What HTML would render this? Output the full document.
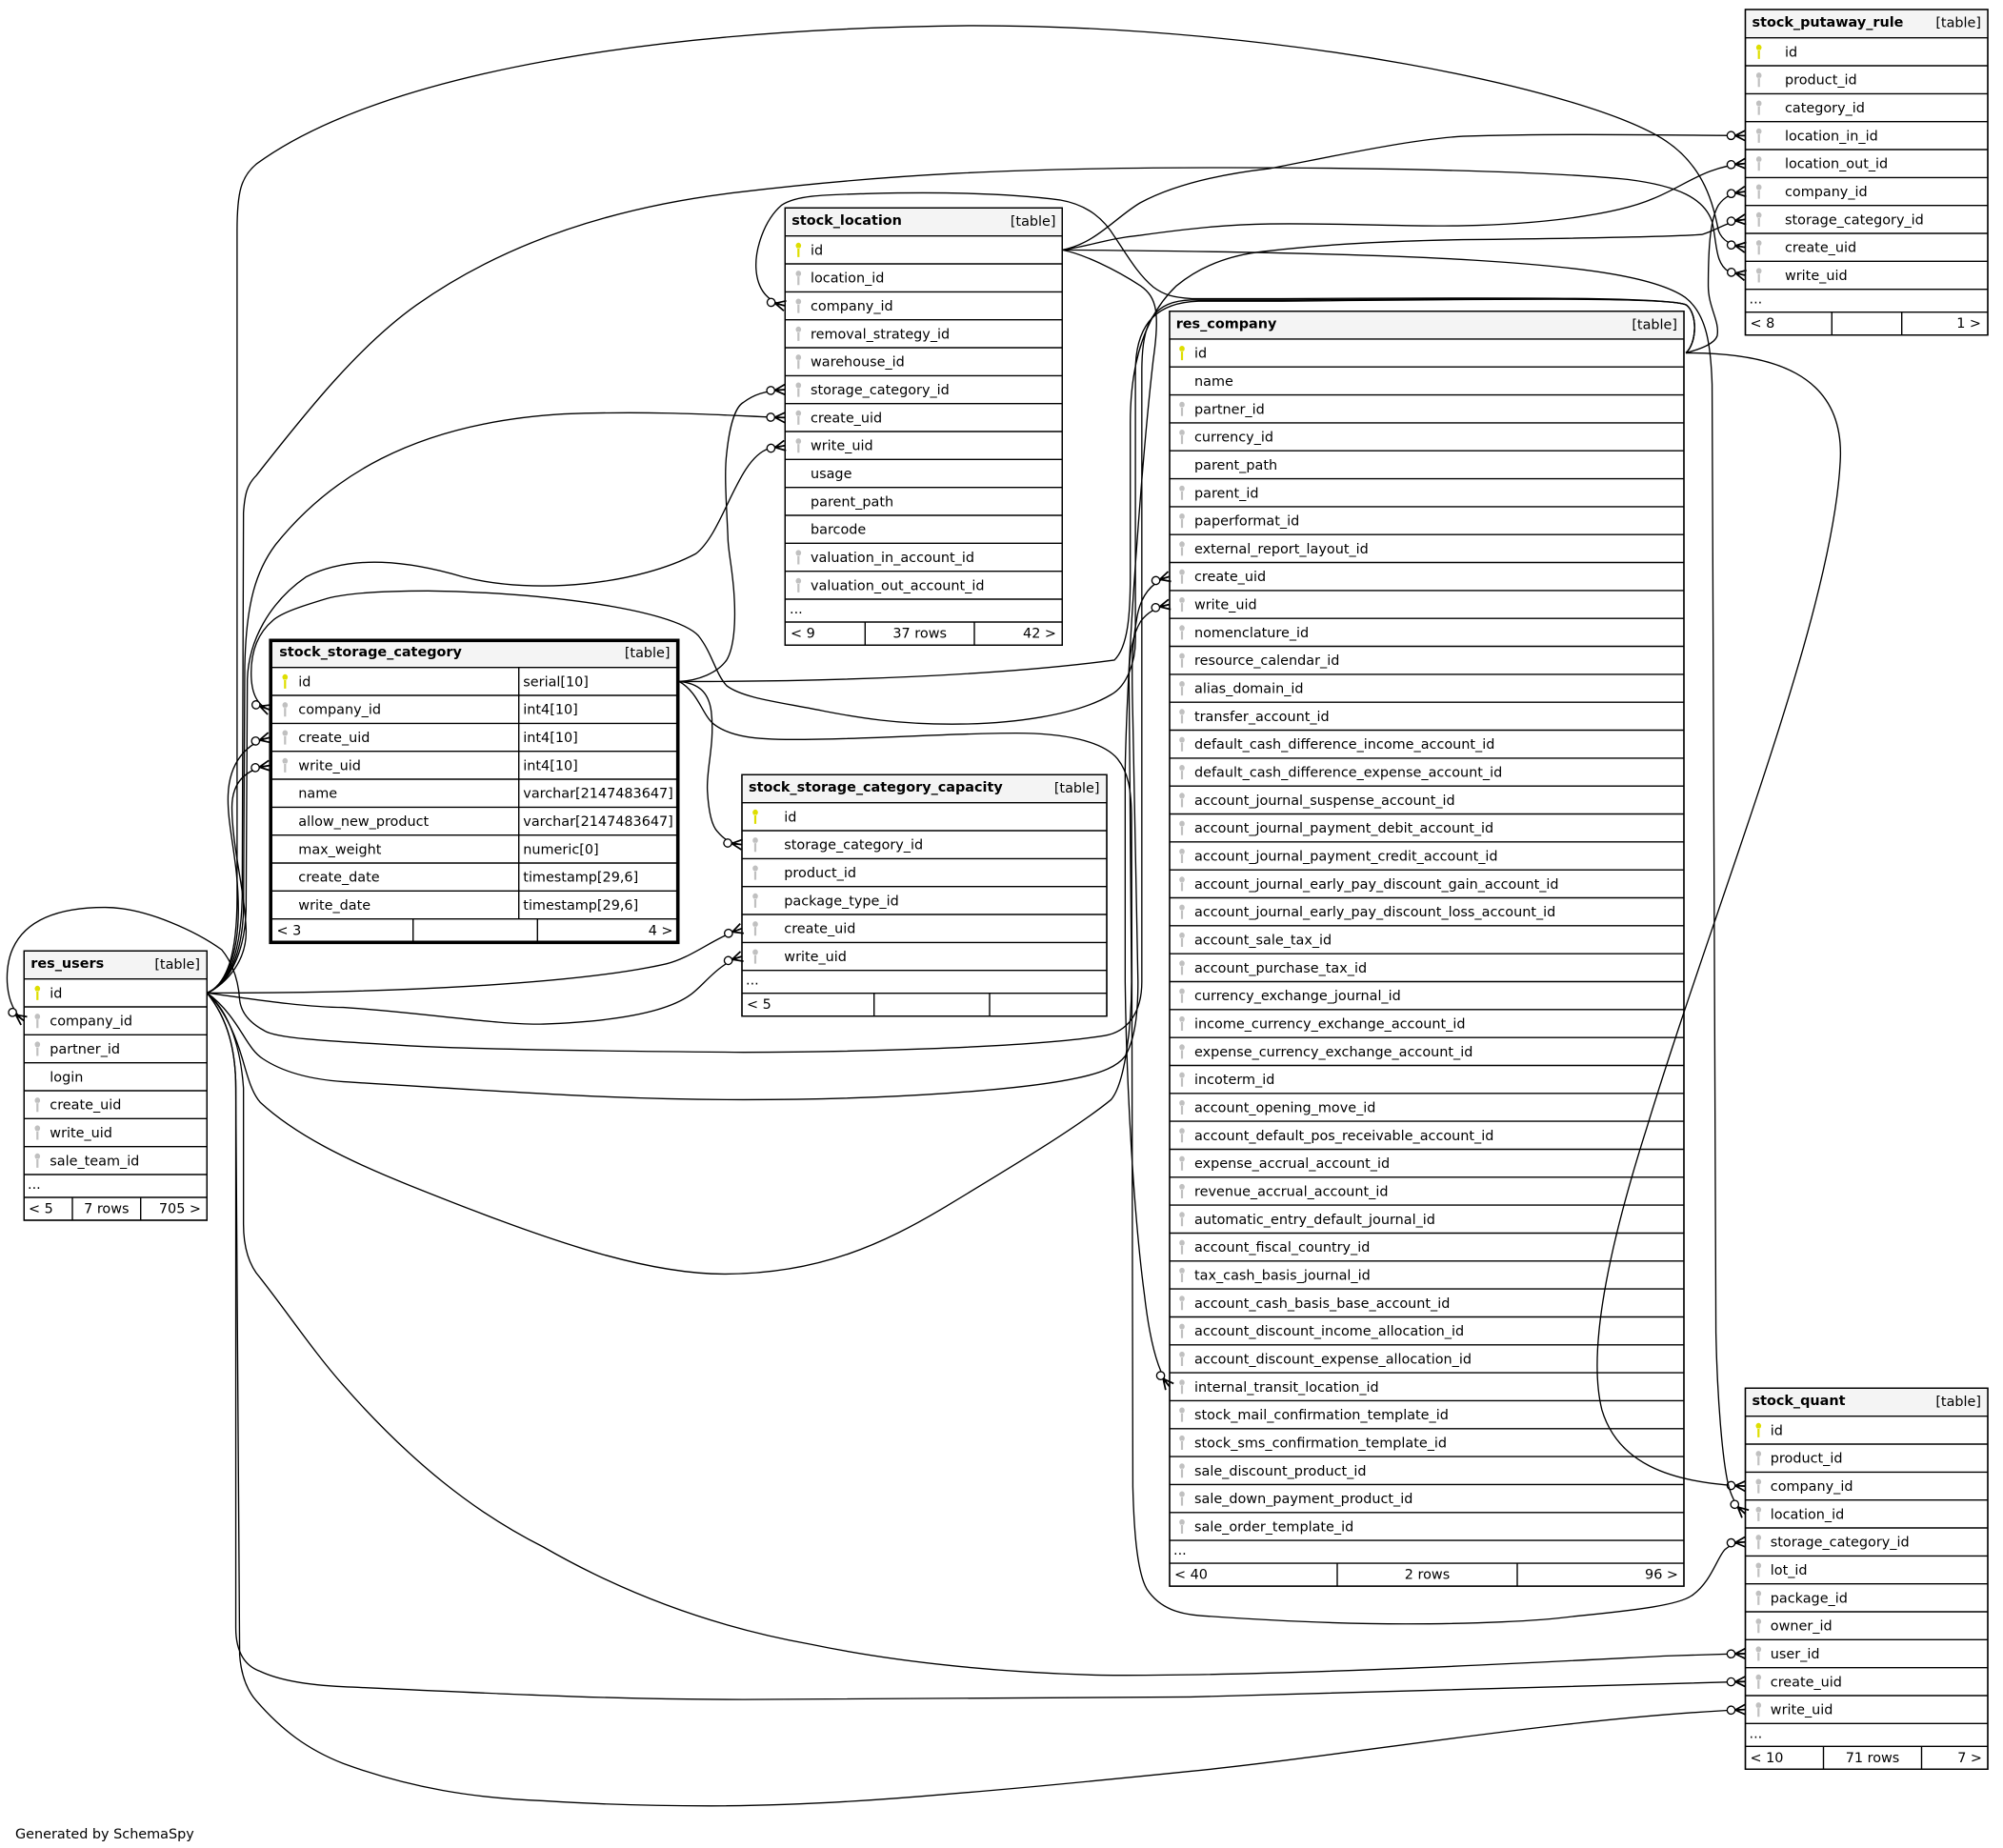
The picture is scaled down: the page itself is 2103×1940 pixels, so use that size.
<!DOCTYPE html>
<html><head><meta charset="utf-8"><style>
html,body{margin:0;padding:0;background:#fff}
svg{display:block}
text{font-family:"DejaVu Sans","Liberation Sans",sans-serif;font-size:14.4px;fill:#000}
.t{font-weight:bold}
.ed path{fill:none;stroke:#000;stroke-width:1;marker-end:url(#cf)}
.ln{stroke:#000;stroke-width:1.4}
.bx{fill:#fff;stroke:#000;stroke-width:1.4}
.hd{fill:#f4f4f4}
</style></head><body>
<svg width="2103" height="1940" viewBox="0 0 2103 1940" xmlns="http://www.w3.org/2000/svg">
<defs>
<marker id="cf" viewBox="-16 -6 18 12" refX="0" refY="0" markerWidth="18" markerHeight="12" orient="auto" markerUnits="userSpaceOnUse" overflow="visible">
<path d="M-8,0 L0,-4 M-8,0 L0,0 M-8,0 L0,4" stroke="#000" stroke-width="1.3" fill="none"/>
<circle cx="-11.2" cy="0" r="3.1" fill="#fff" stroke="#000" stroke-width="1"/>
</marker>
<path id="key" d="M-2.8,-4.5 a2.8,3.1 0 1,0 5.6,0 a2.8,3.1 0 1,0 -5.6,0 Z M-1.1,-2 h2.2 v9.5 h-2.2 Z"/>
</defs>
<rect width="2103" height="1940" fill="#fff"/>

<!-- ============ stock_putaway_rule ============ -->
<g>
<rect class="bx" x="1832.5" y="10" width="254.5" height="341.7"/>
<rect class="hd" x="1833.2" y="10.7" width="253.1" height="29"/>
<g class="ln">
<line x1="1832.5" y1="39.7" x2="2087" y2="39.7"/><line x1="1832.5" y1="69" x2="2087" y2="69"/><line x1="1832.5" y1="98.4" x2="2087" y2="98.4"/><line x1="1832.5" y1="127.7" x2="2087" y2="127.7"/><line x1="1832.5" y1="157" x2="2087" y2="157"/><line x1="1832.5" y1="186.4" x2="2087" y2="186.4"/><line x1="1832.5" y1="215.7" x2="2087" y2="215.7"/><line x1="1832.5" y1="245" x2="2087" y2="245"/><line x1="1832.5" y1="274.3" x2="2087" y2="274.3"/><line x1="1832.5" y1="303.7" x2="2087" y2="303.7"/><line x1="1832.5" y1="327.7" x2="2087" y2="327.7"/>
<line x1="1923.3" y1="327.7" x2="1923.3" y2="351.7"/><line x1="1996.7" y1="327.7" x2="1996.7" y2="351.7"/>
</g>
<rect x="1832.5" y="10" width="254.5" height="341.7" fill="none" stroke="#000" stroke-width="1.4"/>
<text class="t" x="1839.5" y="28">stock_putaway_rule</text>
<text x="2080" y="28.7" text-anchor="end">[table]</text>
<use href="#key" x="1846.7" y="54.4" fill="#dede00"/>
<use href="#key" x="1846.7" y="83.7" fill="#c0c0c0"/>
<use href="#key" x="1846.7" y="113.1" fill="#c0c0c0"/>
<use href="#key" x="1846.7" y="142.4" fill="#c0c0c0"/>
<use href="#key" x="1846.7" y="171.7" fill="#c0c0c0"/>
<use href="#key" x="1846.7" y="201.1" fill="#c0c0c0"/>
<use href="#key" x="1846.7" y="230.4" fill="#c0c0c0"/>
<use href="#key" x="1846.7" y="259.7" fill="#c0c0c0"/>
<use href="#key" x="1846.7" y="289" fill="#c0c0c0"/>
<text x="1874" y="59.4">id</text>
<text x="1874" y="88.7">product_id</text>
<text x="1874" y="118.1">category_id</text>
<text x="1874" y="147.4">location_in_id</text>
<text x="1874" y="176.7">location_out_id</text>
<text x="1874" y="206.1">company_id</text>
<text x="1874" y="235.4">storage_category_id</text>
<text x="1874" y="264.7">create_uid</text>
<text x="1874" y="294">write_uid</text>
<text x="1836.5" y="318.7">...</text>
<text x="1837.5" y="344.2">&lt; 8</text>
<text x="2080" y="344.2" text-anchor="end">1 &gt;</text>
</g>

<!-- ============ stock_location ============ -->
<g>
<rect class="bx" x="824.3" y="218.3" width="291" height="459"/>
<rect class="hd" x="825" y="219" width="289.6" height="28.7"/>
<g class="ln">
<line x1="824.3" y1="247.7" x2="1115.3" y2="247.7"/><line x1="824.3" y1="277" x2="1115.3" y2="277"/><line x1="824.3" y1="306.4" x2="1115.3" y2="306.4"/><line x1="824.3" y1="335.7" x2="1115.3" y2="335.7"/><line x1="824.3" y1="365" x2="1115.3" y2="365"/><line x1="824.3" y1="394.4" x2="1115.3" y2="394.4"/><line x1="824.3" y1="423.7" x2="1115.3" y2="423.7"/><line x1="824.3" y1="453" x2="1115.3" y2="453"/><line x1="824.3" y1="482.3" x2="1115.3" y2="482.3"/><line x1="824.3" y1="511.7" x2="1115.3" y2="511.7"/><line x1="824.3" y1="541" x2="1115.3" y2="541"/><line x1="824.3" y1="570.3" x2="1115.3" y2="570.3"/><line x1="824.3" y1="599.7" x2="1115.3" y2="599.7"/><line x1="824.3" y1="629" x2="1115.3" y2="629"/><line x1="824.3" y1="653" x2="1115.3" y2="653"/>
<line x1="908.3" y1="653" x2="908.3" y2="677.3"/><line x1="1023" y1="653" x2="1023" y2="677.3"/>
</g>
<rect x="824.3" y="218.3" width="291" height="459" fill="none" stroke="#000" stroke-width="1.4"/>
<text class="t" x="831.3" y="236.2">stock_location</text>
<text x="1108.5" y="236.9" text-anchor="end">[table]</text>
<use href="#key" x="838.3" y="262.4" fill="#dede00"/>
<use href="#key" x="838.3" y="291.7" fill="#c0c0c0"/>
<use href="#key" x="838.3" y="321.1" fill="#c0c0c0"/>
<use href="#key" x="838.3" y="350.4" fill="#c0c0c0"/>
<use href="#key" x="838.3" y="379.7" fill="#c0c0c0"/>
<use href="#key" x="838.3" y="409.1" fill="#c0c0c0"/>
<use href="#key" x="838.3" y="438.4" fill="#c0c0c0"/>
<use href="#key" x="838.3" y="467.7" fill="#c0c0c0"/>
<use href="#key" x="838.3" y="585" fill="#c0c0c0"/>
<use href="#key" x="838.3" y="614.4" fill="#c0c0c0"/>
<text x="851" y="267.4">id</text>
<text x="851" y="296.7">location_id</text>
<text x="851" y="326.1">company_id</text>
<text x="851" y="355.4">removal_strategy_id</text>
<text x="851" y="384.7">warehouse_id</text>
<text x="851" y="414.1">storage_category_id</text>
<text x="851" y="443.4">create_uid</text>
<text x="851" y="472.7">write_uid</text>
<text x="851" y="502">usage</text>
<text x="851" y="531.4">parent_path</text>
<text x="851" y="560.7">barcode</text>
<text x="851" y="590">valuation_in_account_id</text>
<text x="851" y="619.4">valuation_out_account_id</text>
<text x="829" y="644">...</text>
<text x="830" y="669.5">&lt; 9</text>
<text x="965.7" y="669.5" text-anchor="middle">37 rows</text>
<text x="1109" y="669.5" text-anchor="end">42 &gt;</text>
</g>

<!-- ============ res_company ============ -->
<g>
<rect class="bx" x="1228" y="326.7" width="540" height="1338.4"/>
<rect class="hd" x="1228.7" y="327.4" width="538.6" height="28.5"/>
<g class="ln">
<line x1="1228" y1="355.9" x2="1768" y2="355.9"/><line x1="1228" y1="385.2" x2="1768" y2="385.2"/><line x1="1228" y1="414.6" x2="1768" y2="414.6"/><line x1="1228" y1="443.9" x2="1768" y2="443.9"/><line x1="1228" y1="473.2" x2="1768" y2="473.2"/><line x1="1228" y1="502.6" x2="1768" y2="502.6"/><line x1="1228" y1="531.9" x2="1768" y2="531.9"/><line x1="1228" y1="561.2" x2="1768" y2="561.2"/><line x1="1228" y1="590.5" x2="1768" y2="590.5"/><line x1="1228" y1="619.9" x2="1768" y2="619.9"/><line x1="1228" y1="649.2" x2="1768" y2="649.2"/><line x1="1228" y1="678.5" x2="1768" y2="678.5"/><line x1="1228" y1="707.9" x2="1768" y2="707.9"/><line x1="1228" y1="737.2" x2="1768" y2="737.2"/><line x1="1228" y1="766.5" x2="1768" y2="766.5"/><line x1="1228" y1="795.9" x2="1768" y2="795.9"/><line x1="1228" y1="825.2" x2="1768" y2="825.2"/><line x1="1228" y1="854.5" x2="1768" y2="854.5"/><line x1="1228" y1="883.8" x2="1768" y2="883.8"/><line x1="1228" y1="913.2" x2="1768" y2="913.2"/><line x1="1228" y1="942.5" x2="1768" y2="942.5"/><line x1="1228" y1="971.8" x2="1768" y2="971.8"/><line x1="1228" y1="1001.2" x2="1768" y2="1001.2"/><line x1="1228" y1="1030.5" x2="1768" y2="1030.5"/><line x1="1228" y1="1059.8" x2="1768" y2="1059.8"/><line x1="1228" y1="1089.2" x2="1768" y2="1089.2"/><line x1="1228" y1="1118.5" x2="1768" y2="1118.5"/><line x1="1228" y1="1147.8" x2="1768" y2="1147.8"/><line x1="1228" y1="1177.1" x2="1768" y2="1177.1"/><line x1="1228" y1="1206.5" x2="1768" y2="1206.5"/><line x1="1228" y1="1235.8" x2="1768" y2="1235.8"/><line x1="1228" y1="1265.1" x2="1768" y2="1265.1"/><line x1="1228" y1="1294.5" x2="1768" y2="1294.5"/><line x1="1228" y1="1323.8" x2="1768" y2="1323.8"/><line x1="1228" y1="1353.1" x2="1768" y2="1353.1"/><line x1="1228" y1="1382.5" x2="1768" y2="1382.5"/><line x1="1228" y1="1411.8" x2="1768" y2="1411.8"/><line x1="1228" y1="1441.1" x2="1768" y2="1441.1"/><line x1="1228" y1="1470.4" x2="1768" y2="1470.4"/><line x1="1228" y1="1499.8" x2="1768" y2="1499.8"/><line x1="1228" y1="1529.1" x2="1768" y2="1529.1"/><line x1="1228" y1="1558.4" x2="1768" y2="1558.4"/><line x1="1228" y1="1587.8" x2="1768" y2="1587.8"/><line x1="1228" y1="1617.1" x2="1768" y2="1617.1"/><line x1="1228" y1="1641.1" x2="1768" y2="1641.1"/>
<line x1="1404" y1="1641.1" x2="1404" y2="1665.1"/><line x1="1593" y1="1641.1" x2="1593" y2="1665.1"/>
</g>
<rect x="1228" y="326.7" width="540" height="1338.4" fill="none" stroke="#000" stroke-width="1.4"/>
<text class="t" x="1234.7" y="344.6">res_company</text>
<text x="1761" y="345.3" text-anchor="end">[table]</text>
<use href="#key" x="1241" y="370.6" fill="#dede00"/>
<g fill="#c0c0c0">
<use href="#key" x="1241" y="429.3"/><use href="#key" x="1241" y="458.6"/><use href="#key" x="1241" y="517.3"/><use href="#key" x="1241" y="546.6"/><use href="#key" x="1241" y="575.9"/><use href="#key" x="1241" y="605.2"/><use href="#key" x="1241" y="634.6"/><use href="#key" x="1241" y="663.9"/><use href="#key" x="1241" y="693.2"/><use href="#key" x="1241" y="722.6"/><use href="#key" x="1241" y="751.9"/><use href="#key" x="1241" y="781.2"/><use href="#key" x="1241" y="810.6"/><use href="#key" x="1241" y="839.9"/><use href="#key" x="1241" y="869.2"/><use href="#key" x="1241" y="898.5"/><use href="#key" x="1241" y="927.9"/><use href="#key" x="1241" y="957.2"/><use href="#key" x="1241" y="986.5"/><use href="#key" x="1241" y="1015.9"/><use href="#key" x="1241" y="1045.2"/><use href="#key" x="1241" y="1074.5"/><use href="#key" x="1241" y="1103.9"/><use href="#key" x="1241" y="1133.2"/><use href="#key" x="1241" y="1162.5"/><use href="#key" x="1241" y="1191.8"/><use href="#key" x="1241" y="1221.2"/><use href="#key" x="1241" y="1250.5"/><use href="#key" x="1241" y="1279.8"/><use href="#key" x="1241" y="1309.2"/><use href="#key" x="1241" y="1338.5"/><use href="#key" x="1241" y="1367.8"/><use href="#key" x="1241" y="1397.2"/><use href="#key" x="1241" y="1426.5"/><use href="#key" x="1241" y="1455.8"/><use href="#key" x="1241" y="1485.1"/><use href="#key" x="1241" y="1514.5"/><use href="#key" x="1241" y="1543.8"/><use href="#key" x="1241" y="1573.1"/><use href="#key" x="1241" y="1602.5"/>
</g>
<text x="1254" y="375.6">id</text>
<text x="1254" y="404.9">name</text>
<text x="1254" y="434.3">partner_id</text>
<text x="1254" y="463.6">currency_id</text>
<text x="1254" y="492.9">parent_path</text>
<text x="1254" y="522.3">parent_id</text>
<text x="1254" y="551.6">paperformat_id</text>
<text x="1254" y="580.9">external_report_layout_id</text>
<text x="1254" y="610.2">create_uid</text>
<text x="1254" y="639.6">write_uid</text>
<text x="1254" y="668.9">nomenclature_id</text>
<text x="1254" y="698.2">resource_calendar_id</text>
<text x="1254" y="727.6">alias_domain_id</text>
<text x="1254" y="756.9">transfer_account_id</text>
<text x="1254" y="786.2">default_cash_difference_income_account_id</text>
<text x="1254" y="815.6">default_cash_difference_expense_account_id</text>
<text x="1254" y="844.9">account_journal_suspense_account_id</text>
<text x="1254" y="874.2">account_journal_payment_debit_account_id</text>
<text x="1254" y="903.5">account_journal_payment_credit_account_id</text>
<text x="1254" y="932.9">account_journal_early_pay_discount_gain_account_id</text>
<text x="1254" y="962.2">account_journal_early_pay_discount_loss_account_id</text>
<text x="1254" y="991.5">account_sale_tax_id</text>
<text x="1254" y="1020.9">account_purchase_tax_id</text>
<text x="1254" y="1050.2">currency_exchange_journal_id</text>
<text x="1254" y="1079.5">income_currency_exchange_account_id</text>
<text x="1254" y="1108.9">expense_currency_exchange_account_id</text>
<text x="1254" y="1138.2">incoterm_id</text>
<text x="1254" y="1167.5">account_opening_move_id</text>
<text x="1254" y="1196.8">account_default_pos_receivable_account_id</text>
<text x="1254" y="1226.2">expense_accrual_account_id</text>
<text x="1254" y="1255.5">revenue_accrual_account_id</text>
<text x="1254" y="1284.8">automatic_entry_default_journal_id</text>
<text x="1254" y="1314.2">account_fiscal_country_id</text>
<text x="1254" y="1343.5">tax_cash_basis_journal_id</text>
<text x="1254" y="1372.8">account_cash_basis_base_account_id</text>
<text x="1254" y="1402.2">account_discount_income_allocation_id</text>
<text x="1254" y="1431.5">account_discount_expense_allocation_id</text>
<text x="1254" y="1460.8">internal_transit_location_id</text>
<text x="1254" y="1490.1">stock_mail_confirmation_template_id</text>
<text x="1254" y="1519.5">stock_sms_confirmation_template_id</text>
<text x="1254" y="1548.8">sale_discount_product_id</text>
<text x="1254" y="1578.1">sale_down_payment_product_id</text>
<text x="1254" y="1607.5">sale_order_template_id</text>
<text x="1232" y="1632.1">...</text>
<text x="1233" y="1657.6">&lt; 40</text>
<text x="1498.5" y="1657.6" text-anchor="middle">2 rows</text>
<text x="1762" y="1657.6" text-anchor="end">96 &gt;</text>
</g>

<!-- ============ stock_storage_category (focus) ============ -->
<g>
<rect x="284.2" y="672.3" width="427.5" height="317" fill="#fff"/>
<rect class="hd" x="286" y="674.1" width="423.9" height="26.6"/>
<g class="ln">
<line x1="284.2" y1="700.7" x2="711.7" y2="700.7"/><line x1="284.2" y1="730" x2="711.7" y2="730"/><line x1="284.2" y1="759.4" x2="711.7" y2="759.4"/><line x1="284.2" y1="788.7" x2="711.7" y2="788.7"/><line x1="284.2" y1="818" x2="711.7" y2="818"/><line x1="284.2" y1="847.4" x2="711.7" y2="847.4"/><line x1="284.2" y1="876.7" x2="711.7" y2="876.7"/><line x1="284.2" y1="906" x2="711.7" y2="906"/><line x1="284.2" y1="935.3" x2="711.7" y2="935.3"/><line x1="284.2" y1="964.7" x2="711.7" y2="964.7"/>
<line x1="544.7" y1="700.7" x2="544.7" y2="964.7"/>
<line x1="433.7" y1="964.7" x2="433.7" y2="989.3"/><line x1="564.3" y1="964.7" x2="564.3" y2="989.3"/>
</g>
<rect x="284.2" y="672.3" width="427.5" height="317" fill="none" stroke="#000" stroke-width="3.6"/>
<text class="t" x="293.3" y="689">stock_storage_category</text>
<text x="703.5" y="689.8" text-anchor="end">[table]</text>
<use href="#key" x="299.3" y="715.4" fill="#dede00"/>
<use href="#key" x="299.3" y="744.7" fill="#c0c0c0"/>
<use href="#key" x="299.3" y="774.1" fill="#c0c0c0"/>
<use href="#key" x="299.3" y="803.4" fill="#c0c0c0"/>
<text x="313.3" y="720.4">id</text>
<text x="313.3" y="749.7">company_id</text>
<text x="313.3" y="779.1">create_uid</text>
<text x="313.3" y="808.4">write_uid</text>
<text x="313.3" y="837.7">name</text>
<text x="313.3" y="867.1">allow_new_product</text>
<text x="313.3" y="896.4">max_weight</text>
<text x="313.3" y="925.7">create_date</text>
<text x="313.3" y="955">write_date</text>
<text x="549.3" y="720.4">serial[10]</text>
<text x="549.3" y="749.7">int4[10]</text>
<text x="549.3" y="779.1">int4[10]</text>
<text x="549.3" y="808.4">int4[10]</text>
<text x="549.3" y="837.7">varchar[2147483647]</text>
<text x="549.3" y="867.1">varchar[2147483647]</text>
<text x="549.3" y="896.4">numeric[0]</text>
<text x="549.3" y="925.7">timestamp[29,6]</text>
<text x="549.3" y="955">timestamp[29,6]</text>
<text x="290.5" y="981.5">&lt; 3</text>
<text x="706.5" y="981.5" text-anchor="end">4 &gt;</text>
</g>

<!-- ============ stock_storage_category_capacity ============ -->
<g>
<rect class="bx" x="779" y="813.3" width="383" height="253.4"/>
<rect class="hd" x="779.7" y="814" width="381.6" height="28.7"/>
<g class="ln">
<line x1="779" y1="842.7" x2="1162" y2="842.7"/><line x1="779" y1="872" x2="1162" y2="872"/><line x1="779" y1="901.4" x2="1162" y2="901.4"/><line x1="779" y1="930.7" x2="1162" y2="930.7"/><line x1="779" y1="960" x2="1162" y2="960"/><line x1="779" y1="989.4" x2="1162" y2="989.4"/><line x1="779" y1="1018.7" x2="1162" y2="1018.7"/><line x1="779" y1="1042.7" x2="1162" y2="1042.7"/>
<line x1="917.7" y1="1042.7" x2="917.7" y2="1066.7"/><line x1="1039" y1="1042.7" x2="1039" y2="1066.7"/>
</g>
<rect x="779" y="813.3" width="383" height="253.4" fill="none" stroke="#000" stroke-width="1.4"/>
<text class="t" x="786" y="831.2">stock_storage_category_capacity</text>
<text x="1154.5" y="831.9" text-anchor="end">[table]</text>
<use href="#key" x="793" y="857.4" fill="#dede00"/>
<use href="#key" x="793" y="886.7" fill="#c0c0c0"/>
<use href="#key" x="793" y="916.1" fill="#c0c0c0"/>
<use href="#key" x="793" y="945.4" fill="#c0c0c0"/>
<use href="#key" x="793" y="974.7" fill="#c0c0c0"/>
<use href="#key" x="793" y="1004.1" fill="#c0c0c0"/>
<text x="823.3" y="862.4">id</text>
<text x="823.3" y="891.7">storage_category_id</text>
<text x="823.3" y="921.1">product_id</text>
<text x="823.3" y="950.4">package_type_id</text>
<text x="823.3" y="979.7">create_uid</text>
<text x="823.3" y="1009.1">write_uid</text>
<text x="783" y="1033.7">...</text>
<text x="784" y="1059.2">&lt; 5</text>
</g>

<!-- ============ res_users ============ -->
<g>
<rect class="bx" x="25.3" y="998.3" width="192" height="282.7"/>
<rect class="hd" x="26" y="999" width="190.6" height="28.7"/>
<g class="ln">
<line x1="25.3" y1="1027.7" x2="217.3" y2="1027.7"/><line x1="25.3" y1="1057" x2="217.3" y2="1057"/><line x1="25.3" y1="1086.3" x2="217.3" y2="1086.3"/><line x1="25.3" y1="1115.7" x2="217.3" y2="1115.7"/><line x1="25.3" y1="1145" x2="217.3" y2="1145"/><line x1="25.3" y1="1174.3" x2="217.3" y2="1174.3"/><line x1="25.3" y1="1203.7" x2="217.3" y2="1203.7"/><line x1="25.3" y1="1233" x2="217.3" y2="1233"/><line x1="25.3" y1="1257" x2="217.3" y2="1257"/>
<line x1="76" y1="1257" x2="76" y2="1281"/><line x1="147.7" y1="1257" x2="147.7" y2="1281"/>
</g>
<rect x="25.3" y="998.3" width="192" height="282.7" fill="none" stroke="#000" stroke-width="1.4"/>
<text class="t" x="32.3" y="1016.2">res_users</text>
<text x="210" y="1016.9" text-anchor="end">[table]</text>
<use href="#key" x="39.3" y="1042.4" fill="#dede00"/>
<use href="#key" x="39.3" y="1071.7" fill="#c0c0c0"/>
<use href="#key" x="39.3" y="1101" fill="#c0c0c0"/>
<use href="#key" x="39.3" y="1159.7" fill="#c0c0c0"/>
<use href="#key" x="39.3" y="1189" fill="#c0c0c0"/>
<use href="#key" x="39.3" y="1218.4" fill="#c0c0c0"/>
<text x="52.3" y="1047.4">id</text>
<text x="52.3" y="1076.7">company_id</text>
<text x="52.3" y="1106">partner_id</text>
<text x="52.3" y="1135.4">login</text>
<text x="52.3" y="1164.7">create_uid</text>
<text x="52.3" y="1194">write_uid</text>
<text x="52.3" y="1223.4">sale_team_id</text>
<text x="29" y="1248">...</text>
<text x="30" y="1273.5">&lt; 5</text>
<text x="111.8" y="1273.5" text-anchor="middle">7 rows</text>
<text x="211" y="1273.5" text-anchor="end">705 &gt;</text>
</g>

<!-- ============ stock_quant ============ -->
<g>
<rect class="bx" x="1832.5" y="1457.3" width="254.5" height="400"/>
<rect class="hd" x="1833.2" y="1458" width="253.1" height="28.7"/>
<g class="ln">
<line x1="1832.5" y1="1486.7" x2="2087" y2="1486.7"/><line x1="1832.5" y1="1516" x2="2087" y2="1516"/><line x1="1832.5" y1="1545.4" x2="2087" y2="1545.4"/><line x1="1832.5" y1="1574.7" x2="2087" y2="1574.7"/><line x1="1832.5" y1="1604" x2="2087" y2="1604"/><line x1="1832.5" y1="1633.4" x2="2087" y2="1633.4"/><line x1="1832.5" y1="1662.7" x2="2087" y2="1662.7"/><line x1="1832.5" y1="1692" x2="2087" y2="1692"/><line x1="1832.5" y1="1721.3" x2="2087" y2="1721.3"/><line x1="1832.5" y1="1750.7" x2="2087" y2="1750.7"/><line x1="1832.5" y1="1780" x2="2087" y2="1780"/><line x1="1832.5" y1="1809.3" x2="2087" y2="1809.3"/><line x1="1832.5" y1="1833.3" x2="2087" y2="1833.3"/>
<line x1="1914.5" y1="1833.3" x2="1914.5" y2="1857.3"/><line x1="2017.5" y1="1833.3" x2="2017.5" y2="1857.3"/>
</g>
<rect x="1832.5" y="1457.3" width="254.5" height="400" fill="none" stroke="#000" stroke-width="1.4"/>
<text class="t" x="1839.5" y="1475.2">stock_quant</text>
<text x="2080" y="1475.9" text-anchor="end">[table]</text>
<use href="#key" x="1846.3" y="1501.4" fill="#dede00"/>
<g fill="#c0c0c0">
<use href="#key" x="1846.3" y="1530.7"/><use href="#key" x="1846.3" y="1560.1"/><use href="#key" x="1846.3" y="1589.4"/><use href="#key" x="1846.3" y="1618.7"/><use href="#key" x="1846.3" y="1648.1"/><use href="#key" x="1846.3" y="1677.4"/><use href="#key" x="1846.3" y="1706.7"/><use href="#key" x="1846.3" y="1736"/><use href="#key" x="1846.3" y="1765.4"/><use href="#key" x="1846.3" y="1794.7"/>
</g>
<text x="1858.8" y="1506.4">id</text>
<text x="1858.8" y="1535.7">product_id</text>
<text x="1858.8" y="1565.1">company_id</text>
<text x="1858.8" y="1594.4">location_id</text>
<text x="1858.8" y="1623.7">storage_category_id</text>
<text x="1858.8" y="1653.1">lot_id</text>
<text x="1858.8" y="1682.4">package_id</text>
<text x="1858.8" y="1711.7">owner_id</text>
<text x="1858.8" y="1741">user_id</text>
<text x="1858.8" y="1770.4">create_uid</text>
<text x="1858.8" y="1799.7">write_uid</text>
<text x="1836.5" y="1824.3">...</text>
<text x="1837.5" y="1849.8">&lt; 10</text>
<text x="1966" y="1849.8" text-anchor="middle">71 rows</text>
<text x="2081" y="1849.8" text-anchor="end">7 &gt;</text>
</g>

<text x="16" y="1930">Generated by SchemaSpy</text>

<!-- EDGES (in scaled coordinates), drawn over tables -->
<g class="ed" transform="scale(1.34549)">
<!-- res_users.id -> ... -->
<path d="M161.5,774.7 C176,770 186,745 186,710 C186,670 177,645 178,620 C179,595 192,580 210.3,575.5"/>
<path d="M161.5,774.7 C176,768 193,750 192,725 C191,695 181,660 181,630 C181,610 192,600 210.3,597.3"/>
<path d="M161.5,774.7 C300,775 450,768 520,752 C540,747 555,733 579,724.4"/>
<path d="M161.5,774.7 C200,780 240,786 268,786 C330,790 390,800 424,799 C480,797 520,790 539,776 C550,768 560,752 579,746.2"/>
<path d="M161.5,774.7 C178,768 189,745 190,710 L191,520 C192,470 200,445 215,425 C255,375 320,330 440,323 C520,320 580,325 612.6,325.8"/>
<path d="M161.5,774.7 C178,768 191,745 192,710 L193,530 C194,500 210,470 239,450 C275,432 320,438 361,450 C420,465 500,455 543,432 C565,415 575,358 600,350 L612.6,347.6"/>
<path d="M161.5,774.7 C177,768 185,745 185,700 L185,180 C185,150 188,138 200,128 C300,55 520,22 760,20 C1000,20 1240,70 1300,110 C1330,130 1337,160 1341,180 C1344,188 1350,191 1362,193"/>
<path d="M161.5,774.7 C178,768 188,745 189,700 L190,400 C191,385 193,378 200,371 C240,320 280,270 325,238 C400,185 490,160 576,150 C700,135 800,132 900,131 C1050,130 1200,133 1270,140 C1310,145 1330,155 1336,173 C1340,190 1338,205 1349,212 L1362,214.8"/>
<path d="M161.5,774.7 C176,785 185,800 190,808 C195,816 199,822 205,826 C220,836 240,842 268,844 C400,852 480,858 580,858 C700,858 800,850 841,841 C860,837 872,832 878,824 C886,810 888,790 888,766 L884,560 C883,520 883,505 887,483 C889,470 895,455 912.7,449.8"/>
<path d="M161.5,774.7 C178,790 186,815 190,829 C194,843 197,853 203,860 C230,885 270,905 320,925 C420,965 500,994 565,994 C640,994 690,970 737,942 C790,910 840,880 867,858 C878,845 883,800 883,766 L881,530 C881,510 884,495 890,485 C895,478 902,474 912.7,471.6"/>
<path d="M161.5,774.7 C180,790 188,820 190,849 L190,955 C190,975 195,988 203,997 C225,1025 245,1055 268,1081 C320,1140 370,1180 424,1207 C490,1245 560,1270 633,1283 C700,1297 780,1305 860,1307 C1000,1308 1200,1297 1300,1292 C1330,1291 1345,1290.5 1362,1290.2"/>
<path d="M161.5,774.7 C178,795 184,820 184,849 L184,1270 C184,1290 192,1300 203,1304 C220,1312 245,1315 268,1316 C400,1322 480,1326 580,1326 C750,1326 850,1324 929,1324 C1100,1320 1250,1314 1362,1312"/>
<path d="M161.5,774.7 C178,795 184,820 184,849 L187,1291 C188,1305 192,1318 200,1327 C220,1350 240,1365 268,1376 C320,1395 370,1403 424,1405 C470,1408 510,1409 554,1409 C620,1409 680,1405 737,1400 C800,1395 870,1388 929,1382 C1050,1370 1220,1340 1362,1333.8"/>
<!-- res_company.id -> ... -->
<path d="M1315.5,275.4 C1324,268 1325,245 1316,238 C1305,232 1200,233 1000,234 L930,234 C900,235 891,250 891,290 L891,766 C891,790 880,805 862,808 C800,818 650,821 580,821 C450,820 360,818 320,816 C250,812 215,810 206,804 C195,798 188,790 187,780 C186,765 182,752 173,741 C155,728 115,708 82,708 C45,708 20,718 10,740 C3,755 3,785 18.8,796.5"/>
<path d="M1315.5,275.4 C1324,268 1325,245 1316,238 C1305,232 1200,233 1000,235 L935,235 C905,236 886,250 886,290 L886,500 C886,515 880,535 867,542 C840,558 790,565 743,565 C700,565 670,560 644,555 C610,548 580,545 567,535 C558,525 556,510 545,496 C525,475 420,462 334,461 C295,461 270,463 255,467 C235,473 220,478 213,484 C200,495 196,510 196,525 C196,540 200,550 210.3,553.7"/>
<path d="M1315.5,275.4 C1324,268 1325,245 1316,238 C1305,232 1200,232 1000,233 L930,233 C915,232 908,230 900,224 C888,214 880,200 870,185 C862,172 850,160 827,156 C780,150 720,150 679,151 C645,152 622,152 610,160 C596,172 589,195 590,210 C591,225 598,235 612.6,238.6"/>
<path d="M1315.5,275.4 C1328,272 1338,268 1340,262 C1342,250 1333,240 1333,223 C1333,190 1335,170 1341,160 C1346,153 1351,151 1362,149.4"/>
<path d="M1315.5,275.4 C1380,275 1440,290 1436,360 C1430,480 1340,700 1285,880 C1250,990 1240,1060 1250,1100 C1262,1140 1300,1157 1362,1159.5"/>
<!-- stock_location.id -> ... -->
<path d="M828.9,195 C855,190 870,170 889.6,158.3 C920,142 960,135 990.7,131.5 C1050,120 1100,109 1141.6,106.3 C1220,104 1300,105.5 1362,105.8"/>
<path d="M828.9,195 C850,192 865,186 889.6,183.6 C930,178 960,175 990.7,174.7 C1050,174 1100,177 1141.6,176.1 C1200,175 1260,168 1290,155 C1315,145 1330,130 1362,127.6"/>
<path d="M828.9,195 C845,198 870,210 890,223 C903,232 905,245 900,280 C893,340 880,500 878,600 L878,766 C879,850 885,950 893,1010 C897,1045 903,1070 912.7,1082"/>
<path d="M828.9,195 C950,196 1070,198 1150,203 C1230,208 1290,215 1315,232 C1332,245 1335,270 1336,300 L1339,1040 C1340,1090 1344,1140 1349,1160 C1352,1170 1355,1175 1362,1181.2"/>
<!-- stock_storage_category.id -> ... -->
<path d="M529.9,531.7 C545,531 560,525 567,515 C573,505 574,485 573,467 C572,445 568,430 568,419 C567,395 565,370 567,354 C569,335 573,318 580,314 C588,308 596,305 612.6,304"/>
<path d="M529.9,531.7 C545,533 553,540 555,555 C558,580 551,600 552,617 C553,635 556,645 560,649 C565,655 570,658 579,659"/>
<path d="M529.9,531.7 C650,532 780,527 869.6,515 C880,505 882,480 882,450 L882,330 C882,280 895,245 918,223 C940,205 965,198 990.5,195.7 C1040,190 1090,188 1141.6,187 C1230,186 1300,185 1328,183 C1339,180 1347,173 1362,171.2"/>
<path d="M529.9,531.7 C545,540 548,558 557,565 C570,575 590,577 619,577 C680,577 740,572 793,572 C830,572 860,578 872,592 C880,602 883,615 883,640 L884,1160 C885,1200 888,1228 895,1240 C905,1255 920,1260 943,1261 C1000,1265 1050,1267 1097,1267 C1150,1267 1200,1265 1229,1261 C1280,1256 1310,1252 1320,1245 C1335,1235 1340,1215 1346,1209 C1351,1205 1355,1203.5 1362,1203.1"/>
</g>
</svg>
</body></html>
